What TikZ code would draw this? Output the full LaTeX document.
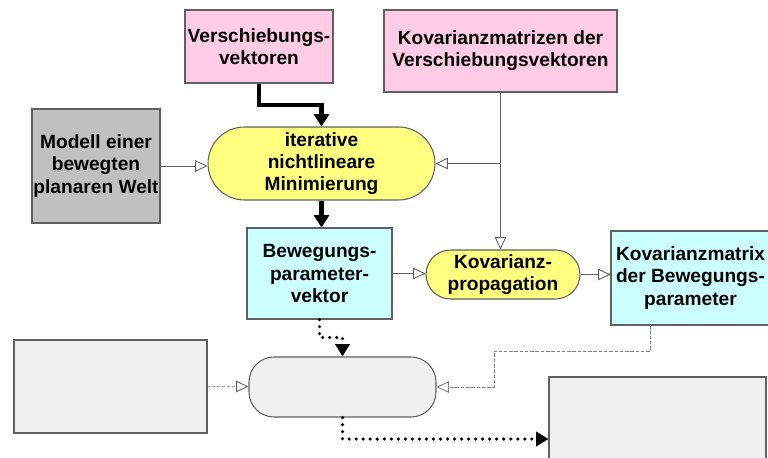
\documentclass[tikz,border=0pt]{standalone}
\usepackage{fontspec}
\setmainfont{Liberation Sans}
\usetikzlibrary{arrows.meta}
\definecolor{inpink}{HTML}{FFCCE6}
\definecolor{procyellow}{HTML}{FFFF80}
\definecolor{outcyan}{HTML}{CCFFFF}
\definecolor{modelgray}{HTML}{C0C0C0}
\definecolor{emptygray}{HTML}{F0F0F0}
\definecolor{edge}{HTML}{606060}
\begin{document}
\begin{tikzpicture}[
        x=0.02cm, y=-0.02cm,
        every node/.style={font=\fontsize{10.9}{12.6}\selectfont\bfseries, align=center, inner sep=0pt},
        datain/.style={draw=edge, line width=0.6pt, fill=inpink},
        model/.style={draw=edge, line width=0.6pt, fill=modelgray},
        result/.style={draw=edge, line width=0.6pt, fill=outcyan},
        proc/.style={draw=edge, line width=0.6pt, fill=procyellow},
        blank/.style={draw=edge, line width=0.6pt, fill=emptygray},
        flow/.style={line width=2.3pt, -{Triangle[length=7pt,width=8.5pt]}},
        dotflow/.style={line width=2pt, line cap=round, dash pattern=on 0pt off 4pt, -{Triangle[length=7pt,width=8pt]}},
        link/.style={draw=edge, line width=0.5pt, -{Triangle[open,length=7pt,width=6.5pt,fill=white]}},
        dashlink/.style={draw=black!50, line width=0.5pt, dash pattern=on 2pt off 1pt, -{Triangle[open,length=7pt,width=6.5pt,fill=white]}},
        greylink/.style={draw=black!40, line width=0.9pt, dash pattern=on 1.6pt off 1.2pt, -{Triangle[open,length=7pt,width=6.5pt,fill=white,color=edge,line width=0.5pt]}}
    ]
        \clip (0,0) rectangle (768,457);

        % Inputs
        \node[datain, minimum width=2.96cm, minimum height=1.46cm] (vs) at (259,46.5) {Verschiebungs-\\vektoren};
        \node[datain, minimum width=4.66cm, minimum height=1.64cm] (kmz) at (500.5,51) {Kovarianzmatrizen der\\Verschiebungsvektoren};
        \node[model, minimum width=2.56cm, minimum height=2.28cm] (welt) at (96,166) {Modell einer\\bewegten\\planaren Welt};

        % Processing
        \node[proc, rounded corners=0.73cm, minimum width=4.54cm, minimum height=1.46cm] (iter) at (321.5,163.5) {iterative\\nichtlineare\\Minimierung};
        \node[proc, rounded corners=0.49cm, minimum width=3.08cm, minimum height=0.98cm] (prop) at (503,274.5) {Kovarianz-\\propagation};

        % Results
        \node[result, minimum width=2.9cm, minimum height=1.82cm] (bew) at (319.5,273.5) {Bewegungs-\\parameter-\\vektor};
        \node[result, minimum width=3.18cm, minimum height=1.88cm] (kmx) at (690.5,278) {Kovarianzmatrix\\der Bewegungs-\\parameter};

        % Empty stage
        \node[blank, minimum width=3.86cm, minimum height=1.86cm] (leer) at (110.5,386.5) {};
        \node[blank, rounded corners=0.5cm, minimum width=3.74cm, minimum height=1.2cm] (next) at (342.5,387) {};
        \node[blank, minimum width=4.34cm, minimum height=2.48cm] (ziel) at (657.5,439) {};

        % Main flow
        \draw[flow] (vs.south) -- ++(0,21) -| (iter.north);
        \draw[flow] (iter.south) -- (iter.south |- bew.north);
        \draw[link] (welt.east) -- (welt.east -| iter.west);

        % Covariances
        \draw[link] (kmz.south) -- (kmz.south |- prop.north);
        \draw[link] (kmz.south |- iter.east) -- (iter.east);
        \draw[link] (bew.east) -- (bew.east -| prop.west);
        \draw[link] (prop.east) -- (prop.east -| kmx.west);

        % Further stage
        \coordinate (kmxout) at (650,325);
        \coordinate (knick) at (494,351);
        \draw[dotflow] (bew.south) -- ++(0,18) -| (next.north);
        \draw[greylink] (leer.east) -- (leer.east -| next.west);
        \draw[dashlink] (kmxout) |- (knick) |- (next.east);
        \draw[dotflow] (next.south) |- (ziel.west);
    \end{tikzpicture}
\end{document}
